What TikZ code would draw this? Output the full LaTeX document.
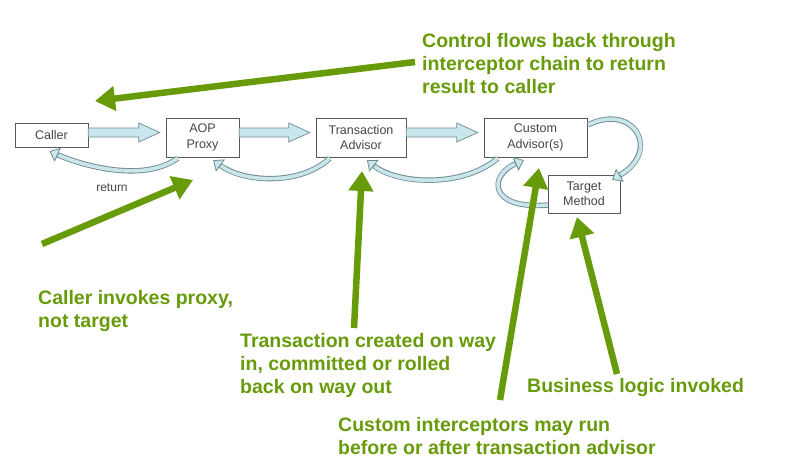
\documentclass[tikz,border=0pt]{standalone}
\usepackage{fontspec}
\setmainfont{Liberation Sans}
\usetikzlibrary{arrows.meta,calc}

\definecolor{hintgreen}{RGB}{104,155,10}
\definecolor{flowfill}{RGB}{200,230,236}
\definecolor{flowedge}{RGB}{110,140,146}
\definecolor{boxtext}{RGB}{70,70,70}

% straight call arrow between two boxes
\newcommand{\callarrow}[2]{%
  \path (#1.east |- 0,132.5) coordinate (ca) (#2.west |- 0,132.5) coordinate (cb);
  \draw[callflow] ($(ca)+(0,-4.5)$) -- ($(cb)+(-27,-4.5)$) -- ($(cb)+(-27,-9.5)$)
    -- ($(cb)+(-6,0)$) -- ($(cb)+(-27,9.5)$) -- ($(cb)+(-27,4.5)$) -- ($(ca)+(0,4.5)$) -- cycle;}
% curved return ribbon
\newcommand{\retribbon}[1]{%
  \draw[ribbon out] #1;
  \draw[ribbon in] #1;}

\begin{document}
\begin{tikzpicture}[x=1pt,y=-1pt]
  \tikzstyle{box}=[draw=gray!70!black,fill=white,text=boxtext,font=\fontsize{12.5}{15.5}\selectfont,align=center,inner sep=0pt]
  \tikzstyle{callflow}=[draw=flowedge,fill=flowfill,line width=0.7pt,line join=miter]
  \tikzstyle{ribbon out}=[draw=flowedge,line width=5.4pt,-{Triangle[length=9pt,width=15pt,fill=flowfill,line width=0.8pt]}]
  \tikzstyle{ribbon in}=[draw=flowfill,line width=3.6pt,shorten >=9.6pt]
  \tikzstyle{hint}=[draw=hintgreen,line width=6.5pt,-{Triangle[length=20pt,width=24pt]}]
  \tikzstyle{note}=[text=hintgreen,font=\bfseries\fontsize{19.5}{23}\selectfont,align=left,anchor=north west,inner sep=0pt]
  \useasboundingbox[fill=white] (0,0) rectangle (795,475);

  % boxes
  \node[box,minimum width=73pt,minimum height=24pt] (caller) at (51.5,135) {Caller};
  \node[box,minimum width=73pt,minimum height=39pt] (proxy) at (202.5,137.5) {AOP\\Proxy};
  \node[box,minimum width=90pt,minimum height=39pt] (txadvisor) at (361,137.5) {Transaction\\Advisor};
  \node[box,minimum width=103pt,minimum height=39pt] (custom) at (535.5,137.5) {Custom\\Advisor(s)};
  \node[box,minimum width=72pt,minimum height=38pt] (target) at (584,194) {Target\\Method};

  % calls
  \callarrow{caller}{proxy}
  \callarrow{proxy}{txadvisor}
  \callarrow{txadvisor}{custom}

  % returns
  \retribbon{($(proxy.south west)+(12,1)$) .. controls +(-35,25) and +(32,14) .. ($(caller.south)+(-2,4)$)}
  \retribbon{($(txadvisor.south west)+(14,1)$) .. controls +(-30,28) and +(30,22) .. ($(proxy.south east)+(-26,3)$)}
  \retribbon{($(custom.south west)+(14,1)$) .. controls +(-35,30) and +(30,24) .. ($(txadvisor.south)+(6,3)$)}
  \retribbon{($(custom.north east)+(1,7)$) .. controls +(45,-22) and +(50,-30) .. ($(target.north east)+(-8,5)$)}
  \retribbon{($(target.west)+(0,11)$) .. controls +(-60,5) and +(-35,15) .. ($(custom.south west)+(40,3)$)}
  \node[text=boxtext,font=\fontsize{12}{14}\selectfont] (ret) at (112,188) {return};

  % hints
  \coordinate (backtail) at (415,62);
  \coordinate (backtip) at (95,101);
  \coordinate (invtail) at (42,244);
  \coordinate (invtip) at (193,180);
  \coordinate (txtail) at (354,328);
  \coordinate (txtip) at (362,171);
  \coordinate (custtail) at (500,400);
  \coordinate (custtip) at (539,168);
  \coordinate (bizail) at (617,374);
  \coordinate (biztip) at (577,217);
  \draw[hint] (backtail) -- (backtip);
  \draw[hint] (invtail) -- (invtip);
  \draw[hint] (txtail) -- (txtip);
  \draw[hint] (custtail) -- (custtip);
  \draw[hint] (bizail) -- (biztip);

  \node[note] (backnote) at (422,33) {Control flows back through\\interceptor chain to return\\result to caller};
  \node[note] (invnote) at (38,290) {Caller invokes proxy,\\not target};
  \node[note] (txnote) at (240,333) {Transaction created on way\\in, committed or rolled\\back on way out};
  \node[note] (biznote) at (527,378) {Business logic invoked};
  \node[note] (custnote) at (338,417) {Custom interceptors may run\\before or after transaction advisor};
\end{tikzpicture}
\end{document}
